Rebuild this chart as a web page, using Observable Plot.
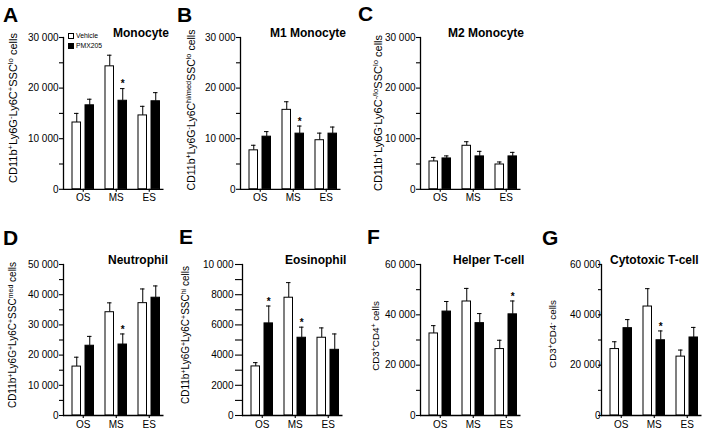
<!DOCTYPE html>
<html><head><meta charset="utf-8">
<script src="https://cdn.jsdelivr.net/npm/d3@7"></script>
<script src="https://cdn.jsdelivr.net/npm/@observablehq/plot@0.6"></script>
<style>
body{margin:0;background:#fff;}
#fig{position:relative;width:709px;height:430px;overflow:hidden;font-family:"Liberation Sans",Arial,sans-serif;color:#000;}
.abs{position:absolute;line-height:1;white-space:nowrap;}
.letter{font-weight:bold;font-size:21px;}
.title{font-weight:bold;font-size:12px;}
.ylab{transform:translate(-50%,-50%) rotate(-90deg);}
.ylab sup{font-size:70%;vertical-align:0.5em;line-height:0;}
.leg{font-size:6.8px;}
.box{position:absolute;width:6px;height:6px;box-sizing:border-box;border:1px solid #000;}
.plotwrap{position:absolute;overflow:visible;}
.plotwrap svg{max-width:none !important;display:block;}
</style></head><body><div id="fig"></div>
<script>
// ---- data ----
const groups = ["OS", "MS", "ES"];
const seriesNames = ["Vehicle", "PMX205"];
const panelLetters = ["A", "B", "C", "D", "E", "F", "G"];
const panelTitles = ["Monocyte", "M1 Monocyte", "M2 Monocyte", "Neutrophil", "Eosinophil", "Helper T-cell", "Cytotoxic T-cell"];
const yLabels = [
  "CD11b<sup>+</sup>Ly6G<sup>-</sup>Ly6C<sup>+</sup>SSC<sup>lo</sup> cells",
  "CD11b<sup>+</sup>Ly6G<sup>-</sup>Ly6C<sup>hi/med</sup>SSC<sup>lo</sup> cells",
  "CD11b<sup>+</sup>Ly6G<sup>-</sup>Ly6C<sup>-/lo</sup>SSC<sup>lo</sup> cells",
  "CD11b<sup>+</sup>Ly6G<sup>+</sup>Ly6C<sup>+</sup>SSC<sup>med</sup> cells",
  "CD11b<sup>+</sup>Ly6G<sup>+</sup>Ly6C<sup>+</sup>SSC<sup>hi</sup> cells",
  "CD3<sup>+</sup>CD4<sup>+</sup> cells",
  "CD3<sup>+</sup>CD4<sup>-</sup> cells"
];
// means and SEM, per panel (A..G), per group (OS, MS, ES)
const vehicleMean = [
  [13200, 24300, 14600],
  [7700, 15700, 9700],
  [5500, 8600, 4900],
  [16200, 34200, 37200],
  [3250, 7800, 5150],
  [32600, 45300, 26400],
  [26400, 43300, 23400]
];
const vehicleSem = [
  [1800, 2200, 1800],
  [1000, 1600, 1400],
  [800, 800, 500],
  [3100, 3100, 4700],
  [250, 1000, 650],
  [3100, 5200, 3500],
  [2900, 7100, 2600]
];
const pmxMean = [
  [16600, 17500, 17400],
  [10400, 11000, 11000],
  [6100, 6500, 6500],
  [23100, 23500, 39000],
  [6100, 5150, 4350],
  [41300, 36700, 40200],
  [34700, 29900, 31000]
];
const pmxSem = [
  [1200, 2400, 1700],
  [1000, 1500, 1300],
  [500, 1000, 800],
  [3100, 3500, 3900],
  [1150, 700, 1050],
  [4000, 3800, 5300],
  [3400, 3700, 4000]
];
const pmxStar = [
  [0, 1, 0],
  [0, 1, 0],
  [0, 0, 0],
  [0, 1, 0],
  [1, 1, 0],
  [0, 0, 1],
  [0, 1, 0]
];
const yMax = [30000, 30000, 30000, 50000, 10000, 60000, 60000];
const yMajorStep = [10000, 10000, 10000, 10000, 2000, 20000, 20000];
const yMinorStep = [5000, 5000, 5000, 5000, 1000, 10000, 10000];

// ---- layout ----
const axisLeft = [63, 240, 420, 63, 242, 420, 601];
const plotTop = [36.5, 36.5, 36.5, 264, 264, 264, 264];
const plotBottom = [188.3, 188.3, 188.3, 415, 415, 415, 415];
const tickSizes = [4, 4, 4, 4, 7, 4, 3];
const tickPads = [1, 1, 1, 1, 2, 1, -2];
const letterPos = [[3, 4], [177, 4], [358, 3], [3, 227], [179, 226], [367, 226], [542, 227]];
const titlePos = [[113, 26.5], [270, 26.5], [448, 26.5], [108, 254], [285, 254], [453, 254], [610, 254]];
const ylabPos = [[12.5, 108, 11], [191, 110, 10.5], [377.5, 112.5, 11], [12.5, 335, 10], [186, 335, 10], [376, 336, 9.8], [553, 334, 9.8]];

const fig = document.getElementById("fig");
const fmt = d => d >= 10000 ? d3.format(",")(d).replace(/,/g, " ") : d3.format("d")(d);

function addDiv(cls, html, left, top, extra) {
  const el = document.createElement("div");
  el.className = "abs " + cls;
  el.innerHTML = html;
  el.style.left = left + "px";
  el.style.top = top + "px";
  if (extra) Object.assign(el.style, extra);
  fig.appendChild(el);
  return el;
}

function makePanel(i) {
  const W = 100.5, step = W / 3, barW = 9, gap = 4, pair = 2 * barW + gap, shift = 2.25;
  const lp = (step - pair) / 2 + shift;
  const vL = lp, vR = step - lp - barW;
  const pL = lp + barW + gap, pR = step - pL - barW;
  const vC = lp + barW / 2, pC = pL + barW / 2;
  const capHalf = 2.5;
  const rows = groups.map((g, j) => ({
    group: g,
    v: vehicleMean[i][j], vTop: vehicleMean[i][j] + vehicleSem[i][j],
    p: pmxMean[i][j], pTop: pmxMean[i][j] + pmxSem[i][j],
    star: pmxStar[i][j]
  }));
  const ml = 40, mt = 10, mb = 24, mr = 2;
  const plotH = plotBottom[i] - plotTop[i];
  const majors = d3.range(0, yMax[i] + 1, yMajorStep[i]);
  const minors = d3.range(0, yMax[i] + 1, yMinorStep[i]).filter(t => !majors.includes(t));
  const svgW = ml + W + mr, svgH = mt + plotH + mb;
  const svg = Plot.plot({
    width: svgW,
    height: svgH,
    marginLeft: ml, marginTop: mt, marginBottom: mb, marginRight: mr,
    style: {background: "transparent", fontFamily: "Liberation Sans, Arial, sans-serif", fontSize: "10px", color: "black", overflow: "visible", maxWidth: "none"},
    x: {type: "band", domain: groups, padding: 0, label: null},
    y: {domain: [0, yMax[i]], label: null},
    marks: [
      Plot.ruleX(rows, {x: "group", y1: "v", y2: "vTop", dx: vC - step / 2, stroke: "black", strokeWidth: 1}),
      Plot.tickY(rows, {x: "group", y: "vTop", insetLeft: vC - capHalf, insetRight: step - vC - capHalf, stroke: "black", strokeWidth: 1}),
      Plot.ruleX(rows, {x: "group", y1: "p", y2: "pTop", dx: pC - step / 2, stroke: "black", strokeWidth: 1}),
      Plot.tickY(rows, {x: "group", y: "pTop", insetLeft: pC - capHalf, insetRight: step - pC - capHalf, stroke: "black", strokeWidth: 1}),
      Plot.barY(rows, {x: "group", y: "v", fill: "white", stroke: "black", strokeWidth: 1, insetLeft: vL, insetRight: vR}),
      Plot.barY(rows, {x: "group", y: "p", fill: "black", stroke: "black", strokeWidth: 1, insetLeft: pL, insetRight: pR}),
      Plot.text(rows.filter(d => d.star), {x: "group", y: "pTop", text: () => "*", dx: pC - step / 2, dy: -4.5, fontSize: 10, fontWeight: "bold", fill: "black"}),
      Plot.axisY({ticks: majors, tickSize: tickSizes[i], tickPadding: tickPads[i], tickFormat: fmt, label: null, strokeWidth: 1.1}),
      Plot.axisY({ticks: minors, tickSize: tickSizes[i], tickFormat: () => "", label: null, strokeWidth: 1.1}),
      Plot.axisX({tickSize: 3, tickPadding: 2, dx: shift, label: null, strokeWidth: 1.1}),
      Plot.ruleY([0], {stroke: "black", strokeWidth: 1.3}),
      Plot.frame({anchor: "left", stroke: "black", strokeWidth: 1.3})
    ]
  });
  svg.style.width = svgW + "px";
  svg.style.height = svgH + "px";
  const wrap = document.createElement("div");
  wrap.className = "plotwrap";
  wrap.style.left = (axisLeft[i] - ml) + "px";
  wrap.style.top = (plotTop[i] - mt) + "px";
  wrap.style.width = svgW + "px";
  wrap.style.height = svgH + "px";
  wrap.appendChild(svg);
  fig.appendChild(wrap);

  addDiv("letter", panelLetters[i], letterPos[i][0], letterPos[i][1]);
  addDiv("title", panelTitles[i], titlePos[i][0], titlePos[i][1]);
  const [cx, cy, fs] = ylabPos[i];
  addDiv("ylab", yLabels[i], cx, cy, {fontSize: fs + "px"});
}

for (let i = 0; i < 7; i++) makePanel(i);

// legend (panel A)
const legendBoxes = [["#fff", 68, 33], ["#000", 68, 43]];
seriesNames.forEach((s, k) => {
  const b = document.createElement("div");
  b.className = "box";
  b.style.left = legendBoxes[k][1] + "px";
  b.style.top = legendBoxes[k][2] + "px";
  b.style.background = legendBoxes[k][0];
  fig.appendChild(b);
  addDiv("leg", s, 76, legendBoxes[k][2] - 0.5);
});
</script></body></html>
